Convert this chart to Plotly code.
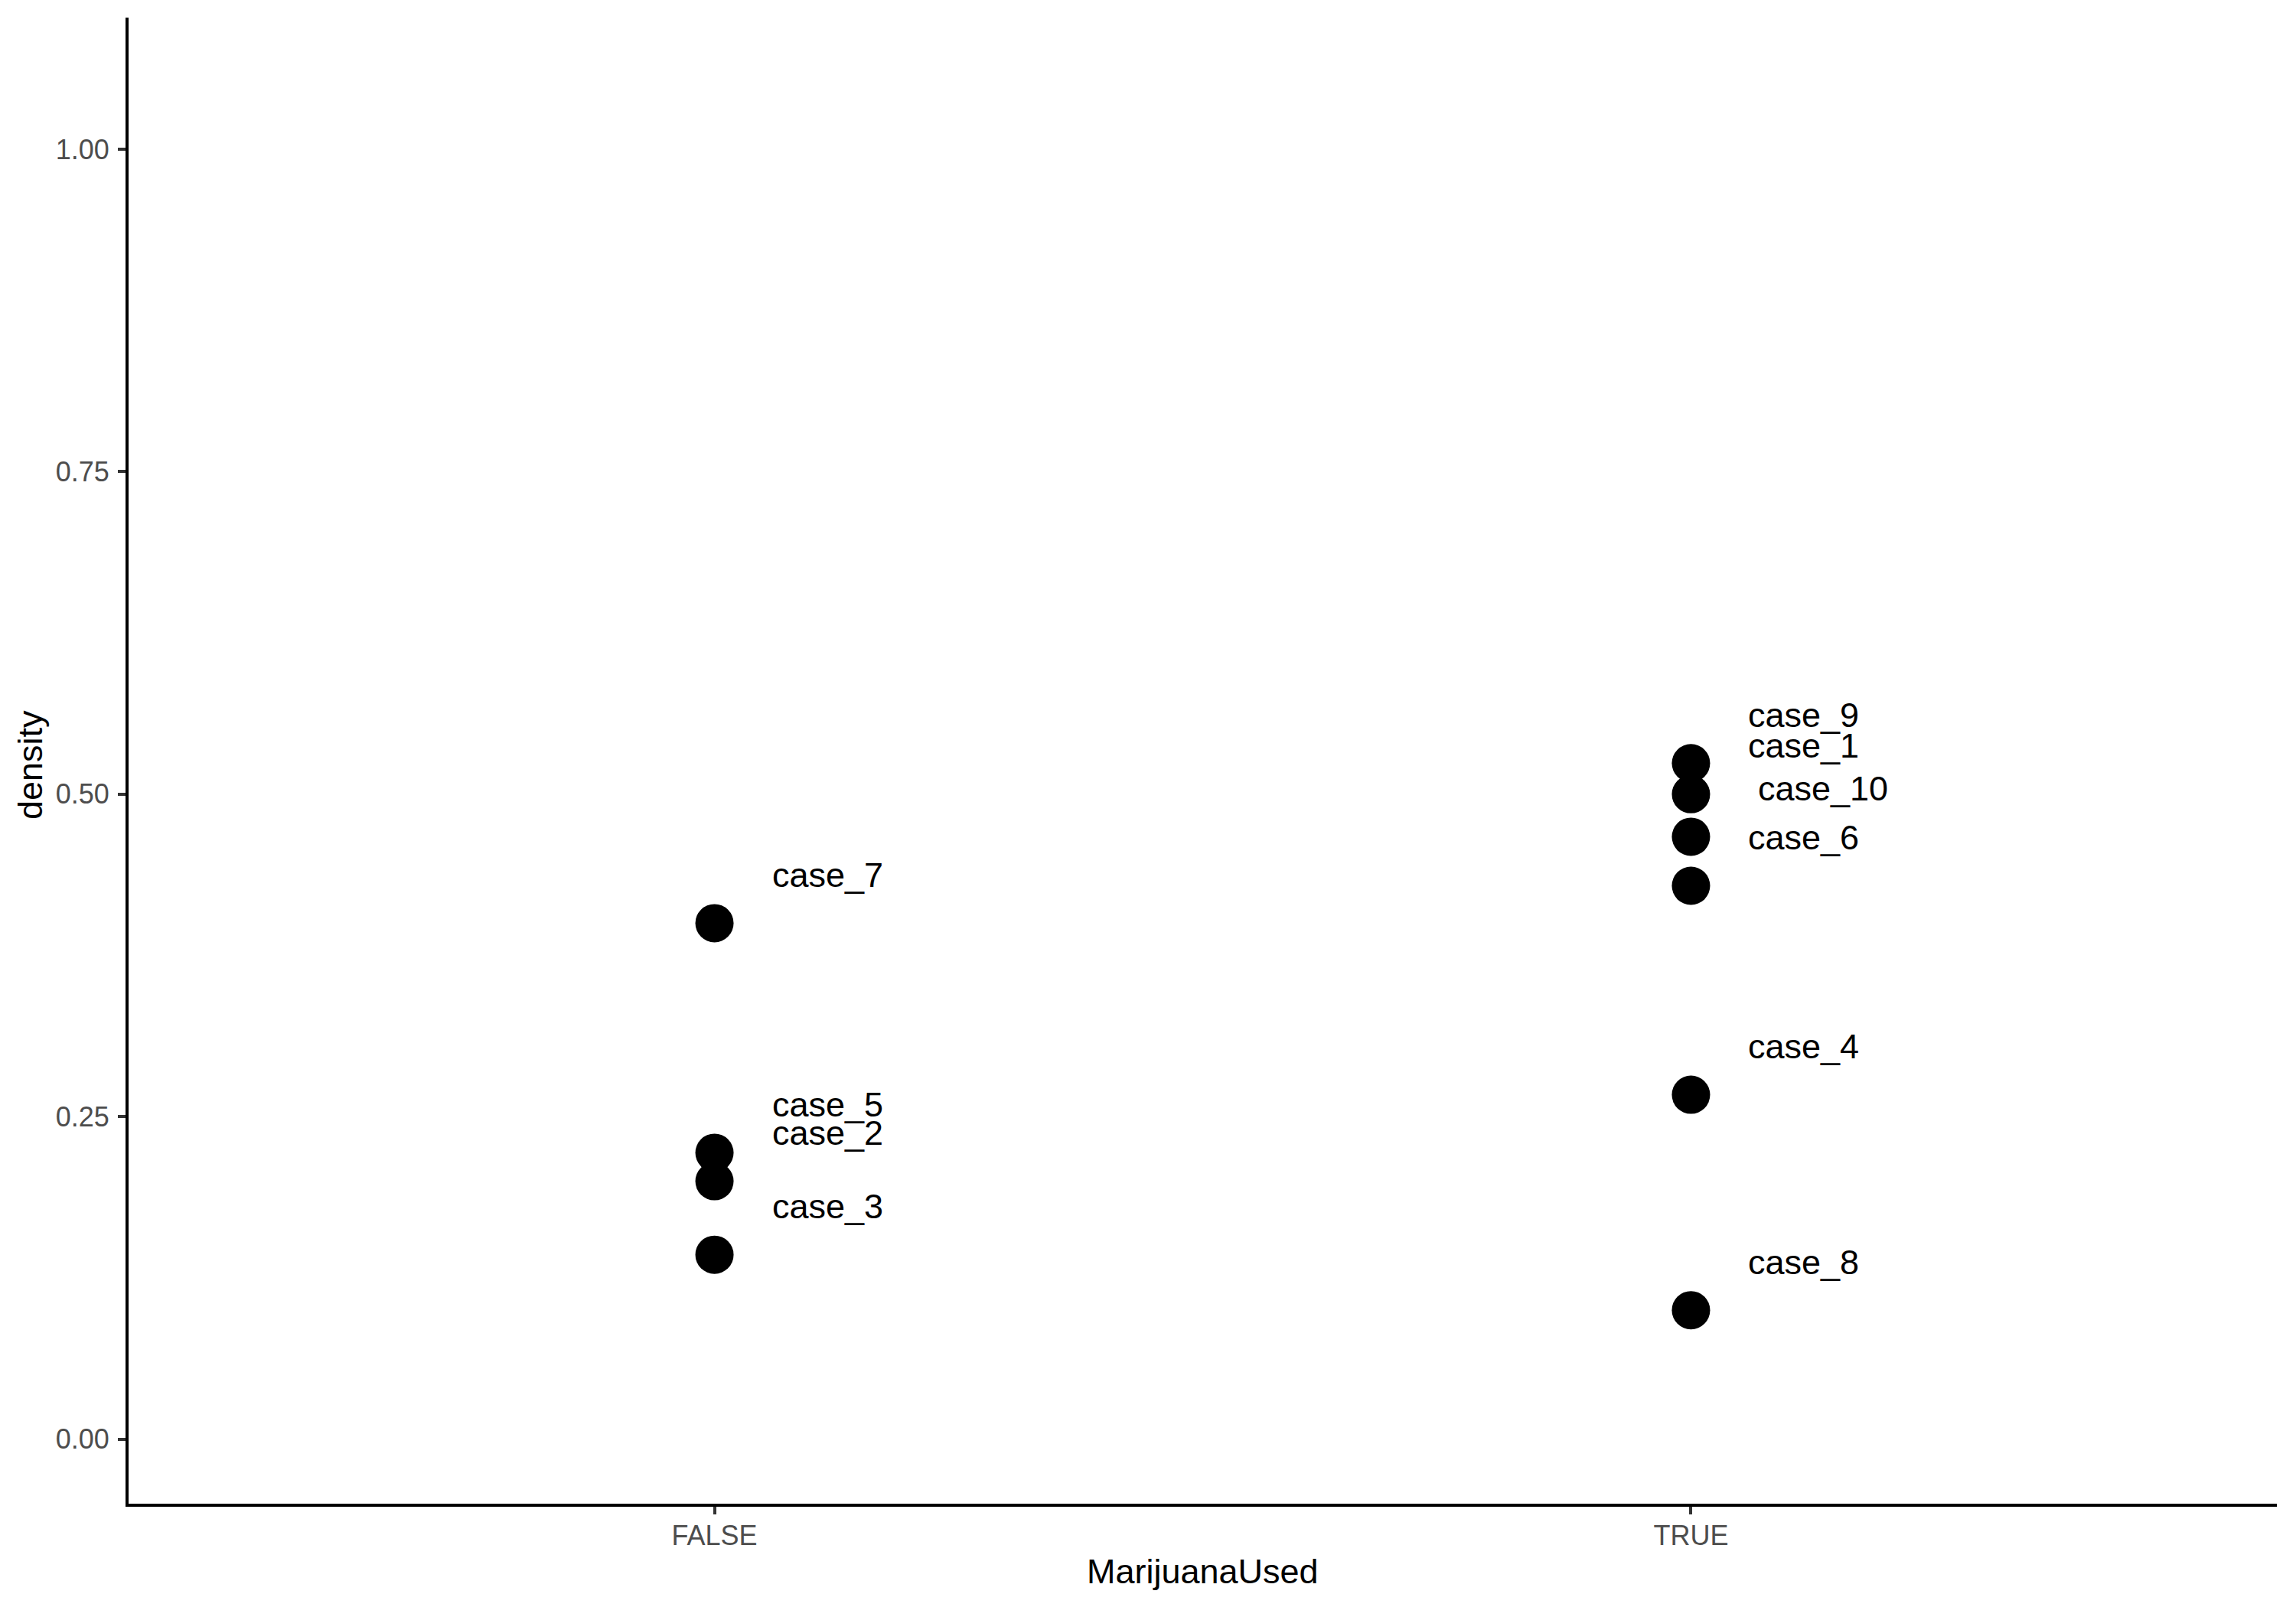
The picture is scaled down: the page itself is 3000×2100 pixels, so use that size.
import plotly.graph_objects as go

# ---- data ----
cases = ["case_1", "case_2", "case_3", "case_4", "case_5",
         "case_6", "case_7", "case_8", "case_9", "case_10"]
marijuana_used = ["TRUE", "FALSE", "FALSE", "TRUE", "FALSE",
                  "TRUE", "FALSE", "TRUE", "TRUE", "TRUE"]
density = [0.500, 0.200, 0.143, 0.267, 0.222,
           0.429, 0.400, 0.100, 0.524, 0.467]
categories = ["FALSE", "TRUE"]
y_ticks = [0.00, 0.25, 0.50, 0.75, 1.00]
y_tick_labels = ["0.00", "0.25", "0.50", "0.75", "1.00"]
x_title = "MarijuanaUsed"
y_title = "density"

FONT = "Liberation Sans, Arial, Helvetica, sans-serif"

fig = go.Figure()
fig.add_trace(go.Scatter(
    x=marijuana_used, y=density, mode="markers",
    marker=dict(size=50, color="black", line=dict(width=0)),
    showlegend=False, hoverinfo="skip",
))

# text labels (repel-like offsets in pixels)
for c, xv, yv in zip(cases, marijuana_used, density):
    dx = 86 if c == "case_10" else 73
    fig.add_annotation(
        x=xv, y=yv, text=c, showarrow=False,
        xanchor="left", yanchor="middle",
        xshift=dx, yshift=63,
        font=dict(family=FONT, size=45, color="black"),
    )

# axis titles
fig.add_annotation(
    xref="paper", yref="paper", x=0.5, y=0, text=x_title, showarrow=False,
    xanchor="center", yanchor="middle", yshift=-88,
    font=dict(family=FONT, size=45, color="black"),
)
fig.add_annotation(
    xref="paper", yref="paper", x=0, y=0.5, text=y_title, showarrow=False,
    xanchor="center", yanchor="middle", xshift=-129, yshift=-6, textangle=-90,
    font=dict(family=FONT, size=45, color="black"),
)

# page body adds an 8px offset; margins compensate
fig.update_layout(
    width=3000, height=2100,
    margin=dict(l=160, r=33, t=15, b=143),
    plot_bgcolor="white", paper_bgcolor="white",
    font=dict(family=FONT),
)
fig.update_xaxes(
    type="category", categoryorder="array", categoryarray=categories,
    range=[-0.6, 1.6], automargin=False,
    showline=True, linecolor="black", linewidth=4,
    ticks="outside", ticklen=10, tickwidth=4, tickcolor="#333333",
    tickfont=dict(family=FONT, size=36, color="#4D4D4D"),
    ticklabelstandoff=-3,
    showgrid=False, zeroline=False,
)
fig.update_yaxes(
    range=[-0.05, 1.102], automargin=False,
    tickvals=y_ticks, ticktext=y_tick_labels,
    showline=True, linecolor="black", linewidth=4,
    ticks="outside", ticklen=10, tickwidth=4, tickcolor="#333333",
    tickfont=dict(family=FONT, size=36, color="#4D4D4D"),
    ticklabelstandoff=4,
    showgrid=False, zeroline=False,
)

fig.write_html("out.html")
